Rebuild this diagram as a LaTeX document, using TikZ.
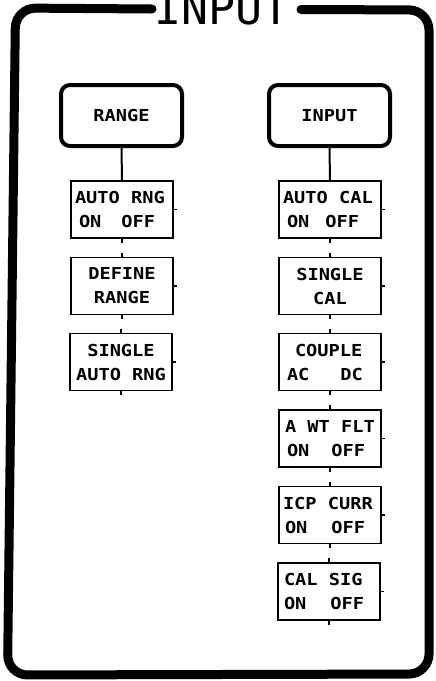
\documentclass[tikz,border=0pt]{standalone}
\usepackage{fontspec}
\newfontfamily\boxfam{DejaVu Sans Mono}[FakeStretch=1.13]
\newfontfamily\titlefam{DejaVu Sans Mono}
\newcommand\ksp{\hspace{11.2pt}}
\begin{document}
\begin{tikzpicture}[x=1pt,y=-1pt,
  frame/.style={line width=9pt, line cap=round, rounded corners=20pt},
  boxfont/.style={font=\boxfam\bfseries\fontsize{16.5pt}{24pt}\selectfont},
  menubox/.style={draw, boxfont, line width=4pt, rounded corners=9pt, minimum width=121pt, minimum height=61pt, inner sep=0pt},
  keybox/.style={draw, boxfont, line width=1.4pt, minimum width=102pt, minimum height=57pt, inner sep=0pt, align=center},
  keyboxl/.style={keybox, align=left, text width=94pt},
  conn/.style={line width=2pt},
  tick/.style={line width=1.4pt}]
\useasboundingbox (0,0) rectangle (436,681);
% outer frame with title gap
\draw[frame] (301,9.5) -- (429,10) -- (429,674) -- (7.5,675) -- (15.5,8) -- (152,9);
\node[font=\titlefam\fontsize{45pt}{45pt}\selectfont, anchor=base, inner sep=0pt] (title) at (222,24) {INPUT};
% menu heads
\node[menubox] (range) at (121.5,115.5) {RANGE};
\node[menubox] (input) at (329.5,115.5) {INPUT};
% left column
\node[keyboxl] (arng) at (122,209.5) {AUTO\ksp RNG\\\hspace*{4pt}ON\hspace{20pt}OFF};
\node[keybox] (defr) at (122,286) {DEFINE\\RANGE};
\node[keybox] (sar) at (121,362) {SINGLE\\AUTO\ksp RNG};
% right column
\node[keyboxl] (acal) at (330,209.5) {AUTO\ksp CAL\\\hspace*{4pt}ON\hspace{16pt}OFF};
\node[keybox] (scal) at (330,286) {SINGLE\\CAL};
\node[keyboxl] (coup) at (330,362) {\hspace*{12pt}COUPLE\\\hspace*{4pt}AC\hspace{31pt}DC};
\node[keyboxl] (awt) at (330,438.5) {\hspace*{2pt}A\ksp WT\ksp FLT\\\hspace*{4pt}ON\hspace{22pt}OFF};
\node[keyboxl] (icp) at (330,515) {ICP\ksp CURR\\\hspace*{2pt}ON\hspace{24pt}OFF};
\node[keyboxl] (csig) at (329,591.5) {\hspace*{2pt}CAL\ksp SIG\\\hspace*{2pt}ON\hspace{24pt}OFF};
% connectors
\draw[conn] (range.south) -- (arng.north);
\draw[conn] (input.south) -- (acal.north);
% stubs
\foreach \b in {arng,defr,sar,acal,scal,coup,awt,icp,csig}{
  \draw[tick] (\b.east) -- ++(3,0);
  \draw[tick] (\b.south) -- ++(0,4);
}
\foreach \b in {defr,sar,scal,coup,awt,icp,csig}{
  \draw[tick] (\b.north) -- ++(0,-4);
}
\end{tikzpicture}
\end{document}
